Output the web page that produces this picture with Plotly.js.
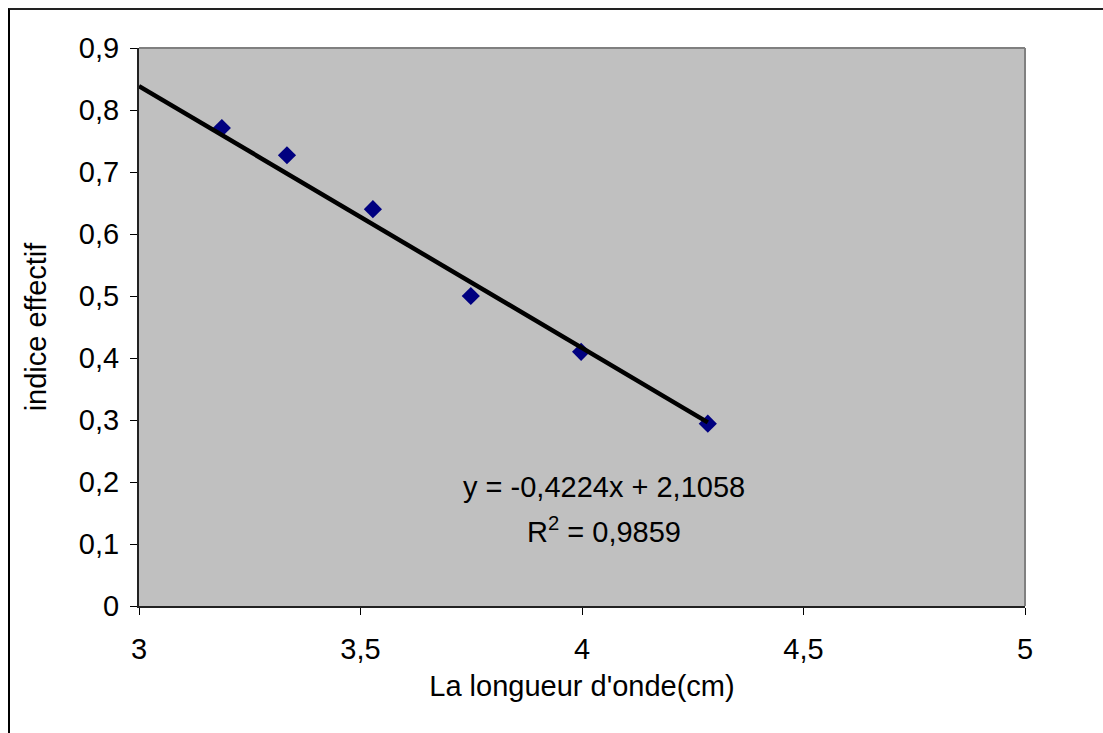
<!DOCTYPE html>
<html>
<head>
<meta charset="utf-8">
<script src="https://cdn.plot.ly/plotly-3.0.1.min.js"></script>
<style>
  html, body { margin: 0; padding: 0; background: #fff; }
  #chart { width: 1103px; height: 733px; }
  #frame { position: absolute; left: 8px; top: 8px; width: 1100px; height: 730px;
           border-left: 2px solid #000; border-top: 2px solid #222; pointer-events: none; }
</style>
</head>
<body>
<div id="chart"></div>
<div id="frame"></div>
<script>
// Measured data
const wavelength = [3.187, 3.334, 3.528, 3.749, 3.998, 4.284];
const indice = [0.771, 0.727, 0.640, 0.500, 0.410, 0.294];

// Linear trendline (from the chart's equation)
const slope = -0.4224;
const intercept = 2.1058;
const trendX = [3, 4.284];
const trendY = trendX.map(x => slope * x + intercept);

const equationText = "y = -0,4224x + 2,1058";
const r2Text = "R<sup>2</sup> = 0,9859";
const xTitle = "La longueur d'onde(cm)";
const yTitle = "indice effectif";

const font = "'Liberation Sans', Arial, sans-serif";
const fs = 29;

const data = [
  {
    x: wavelength, y: indice, type: "scatter", mode: "markers",
    marker: { symbol: "diamond", size: 14, color: "#000080", line: { width: 0 } },
    hoverinfo: "x+y"
  },
  {
    x: trendX, y: trendY, type: "scatter", mode: "lines",
    line: { color: "#000000", width: 4.5 },
    hoverinfo: "skip"
  }
];

const layout = {
  width: 1103, height: 733,
  margin: { l: 139, r: 78, t: 48, b: 127 },
  paper_bgcolor: "rgba(0,0,0,0)",
  plot_bgcolor: "#c0c0c0",
  showlegend: false,
  separators: ", ",
  font: { family: font, size: fs, color: "#000" },
  xaxis: {
    range: [3, 5], dtick: 0.5, tick0: 3,
    showgrid: false, zeroline: false,
    showline: true, linecolor: "#222", linewidth: 2,
    ticks: "outside", ticklen: 7, tickcolor: "#000", tickwidth: 1,
    ticklabelstandoff: 9,
    tickfont: { family: font, size: fs, color: "#000" },
    title: { text: xTitle, font: { family: font, size: fs, color: "#000" }, standoff: 12 }
  },
  yaxis: {
    range: [0, 0.9], dtick: 0.1, tick0: 0,
    showgrid: false, zeroline: false,
    showline: true, linecolor: "#222", linewidth: 2,
    ticks: "outside", ticklen: 7, tickcolor: "#000", tickwidth: 1,
    ticklabelstandoff: 5,
    tickfont: { family: font, size: fs, color: "#000" },
    title: { text: yTitle, font: { family: font, size: fs, color: "#000" }, standoff: 24 }
  },
  shapes: [
    { type: "line", xref: "paper", yref: "paper", x0: 0, x1: 1, y0: 1, y1: 1,
      line: { color: "#808080", width: 2 } },
    { type: "line", xref: "paper", yref: "paper", x0: 1, x1: 1, y0: 0, y1: 1,
      line: { color: "#808080", width: 2 } }
  ],
  annotations: [
    { x: 4.05, y: 0.192, xref: "x", yref: "y", text: equationText, showarrow: false,
      font: { family: font, size: fs, color: "#000" } },
    { x: 4.05, y: 0.122, xref: "x", yref: "y", text: r2Text, showarrow: false,
      font: { family: font, size: fs, color: "#000" } }
  ]
};

Plotly.newPlot("chart", data, layout, { displayModeBar: false, staticPlot: true });
</script>
</body>
</html>
